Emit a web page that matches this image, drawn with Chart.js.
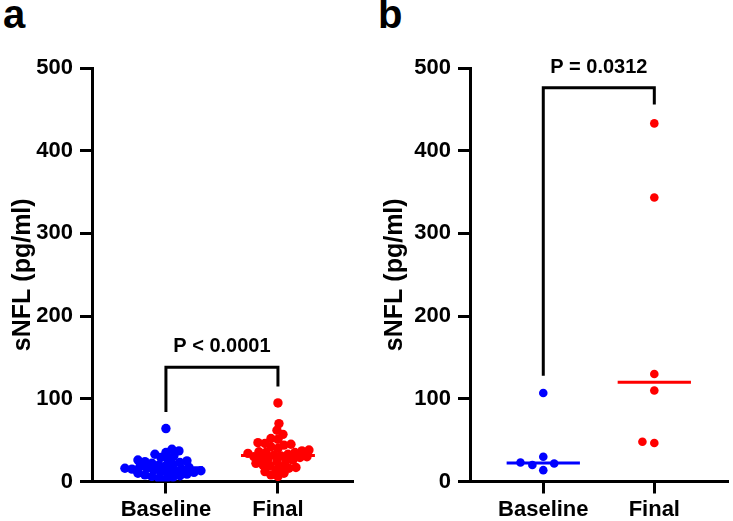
<!DOCTYPE html>
<html>
<head>
<meta charset="utf-8">
<script src="https://cdn.jsdelivr.net/npm/chart.js@4.4.1/dist/chart.umd.min.js"></script>
<style>
  body { margin: 0; background: #fff; width: 733px; height: 521px; position: relative; overflow: hidden; font-family: 'Liberation Sans', Arial, sans-serif; }
  canvas { position: absolute; top: 0; }
  .letter { position: absolute; top: -6px; font-size: 40px; line-height: 40px; font-weight: bold; color: #000; }
</style>
</head>
<body>
<div class="letter" style="left:3px">a</div>
<div class="letter" style="left:378px">b</div>
<canvas id="panel-a" width="366" height="521" style="left:0"></canvas>
<canvas id="panel-b" width="367" height="521" style="left:366px"></canvas>
<script>
const CATEGORIES = ['Baseline', 'Final'];
const Y_TICKS = [0, 100, 200, 300, 400, 500];

// panel a, sNFL pg/ml
const A_BASELINE = [64, 39, 37, 35, 33, 31, 29, 27, 26, 25, 24, 23, 22, 21, 20, 19, 18, 17,
  16, 16, 15, 15, 14, 13, 13, 12, 11, 11, 10, 9, 8, 7, 6, 5, 4, 3];
const A_FINAL = [95, 70, 62, 57, 52, 51, 47, 46, 45, 44, 42, 40, 38, 37, 36, 35, 35, 34, 33, 32,
  31, 30, 30, 29, 28, 27, 26, 25, 24, 22, 20, 19, 18, 17, 16, 14, 12, 10, 8, 6];

// panel b
const B_BASELINE = [107, 30, 23, 21.7, 20, 13.7];
const B_FINAL = [433, 343.5, 130, 110, 48, 46.5];

// bracket: [left leg end, bar, right leg end], and where the P label sits
const A_BRACKET = [84, 138, 115];
const B_BRACKET = [128, 476, 456];
const P_LABELS = ['P < 0.0001', 'P = 0.0312'];
const P_LABEL_Y = [163, 501];

const BLUE = '#0000FF';
const RED = '#FF0000';
const FONT = "'Liberation Sans', Arial, sans-serif";
const PX_PER_CAT = 112;
const PX_PER_UNIT = 413 / 500;

function median(values) {
  const s = [...values].sort((a, b) => a - b);
  const m = s.length >> 1;
  return s.length % 2 ? s[m] : (s[m - 1] + s[m]) / 2;
}

// simple beeswarm: closest free spot to the centre line, in pixels
function swarm(values, center, gap) {
  const placed = [];
  [...values].sort((a, b) => a - b).forEach(v => {
    const y = v * PX_PER_UNIT;
    let x = null;
    for (let k = 0; k < 80 && x === null; k++) {
      const options = k === 0 ? [0] : (placed.length % 2 ? [-k, k] : [k, -k]);
      for (const dx of options) {
        if (placed.every(p => Math.hypot(p.x - dx, p.y - y) >= gap)) { x = dx; break; }
      }
    }
    placed.push({ x, y, v });
  });
  return placed.map(p => ({ x: center + p.x / PX_PER_CAT, y: p.v }));
}

function medianLine(values, center) {
  const m = median(values);
  return [{ x: center - 0.33, y: m }, { x: center + 0.33, y: m }];
}

function bracketLine([left, bar, right]) {
  return [{ x: 0, y: left }, { x: 0, y: bar }, { x: 1, y: bar }, { x: 1, y: right }];
}

const pLabelPlugin = {
  id: 'pLabel',
  afterDatasetsDraw(chart, _args, opts) {
    const { ctx, scales } = chart;
    ctx.save();
    ctx.font = `bold 20px ${FONT}`;
    ctx.fillStyle = '#000';
    ctx.textAlign = 'center';
    ctx.textBaseline = 'middle';
    ctx.fillText(opts.text, scales.x.getPixelForValue(0.5), scales.y.getPixelForValue(opts.y));
    ctx.restore();
  },
};

function makePanel(id, baseline, final, bracket, pIndex, cfg) {
  const line = color => ({ type: 'line', borderColor: color, borderWidth: 3, pointRadius: 0, fill: false, clip: false });
  new Chart(document.getElementById(id), {
    type: 'scatter',
    data: {
      datasets: [
        { data: swarm(baseline, 0, cfg.gap), backgroundColor: BLUE, borderWidth: 0, pointRadius: cfg.radius },
        { data: swarm(final, 1, cfg.gap), backgroundColor: RED, borderWidth: 0, pointRadius: cfg.radius },
        { ...line(BLUE), data: medianLine(baseline, 0) },
        { ...line(RED), data: medianLine(final, 1) },
        { ...line('#000'), data: bracketLine(bracket), borderJoinStyle: 'miter' },
      ],
    },
    options: {
      responsive: false,
      animation: false,
      events: [],
      layout: { padding: { top: 68, right: cfg.right, left: 0, bottom: 0 } },
      plugins: {
        legend: { display: false },
        tooltip: { enabled: false },
        pLabel: { text: P_LABELS[pIndex], y: P_LABEL_Y[pIndex] },
      },
      scales: {
        x: {
          type: 'linear',
          min: -0.66,
          max: 1.67,
          afterBuildTicks: scale => { scale.ticks = CATEGORIES.map((_c, i) => ({ value: i })); },
          afterFit: scale => { scale.height = 39.5; },
          ticks: { callback: v => CATEGORIES[v], color: '#000', font: { size: 22, weight: 'bold', family: FONT }, padding: 3, maxRotation: 0 },
          grid: { drawOnChartArea: false, tickLength: 12, tickWidth: 3, tickColor: '#000' },
          border: { color: '#000', width: 3 },
        },
        y: {
          min: 0,
          max: 500,
          afterBuildTicks: scale => { scale.ticks = Y_TICKS.map(value => ({ value })); },
          afterFit: scale => { scale.width = cfg.axisWidth; },
          ticks: { color: '#000', font: { size: 22, weight: 'bold', family: FONT }, padding: 7 },
          grid: { drawOnChartArea: false, tickLength: 12, tickWidth: 3, tickColor: '#000' },
          border: { color: '#000', width: 3 },
          title: {
            display: true,
            text: 'sNFL (pg/ml)',
            color: '#000',
            font: { size: 25, weight: 'bold', family: FONT },
            padding: { top: cfg.titlePad, bottom: 0 },
          },
        },
      },
    },
    plugins: [pLabelPlugin],
  });
}

makePanel('panel-a', A_BASELINE, A_FINAL, A_BRACKET, 0, { gap: 6.8, radius: 4.7, right: 13, axisWidth: 92, titlePad: 8 });
makePanel('panel-b', B_BASELINE, B_FINAL, B_BRACKET, 1, { gap: 12, radius: 4.3, right: 0, axisWidth: 104, titlePad: 14 });
</script>
</body>
</html>
